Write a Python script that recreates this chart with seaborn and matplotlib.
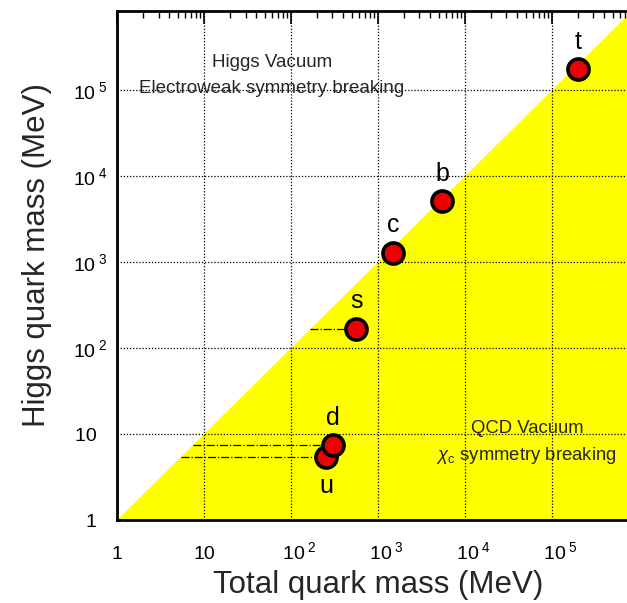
import numpy as np
import pandas as pd
import matplotlib
matplotlib.use('Agg')
import matplotlib.pyplot as plt
import seaborn as sns
from matplotlib.ticker import LogLocator, FixedLocator, NullFormatter

# values (MeV)
quarks = ['u', 'd', 's', 'c', 'b', 't']
total_mass = [252, 305, 560, 1490, 5480, 2.0e5]
higgs_mass = [5.4, 7.4, 166, 1270, 5100, 1.75e5]
label_side = ['below', 'above', 'above', 'above', 'above', 'above']
decades = [1, 10, 1e2, 1e3, 1e4, 1e5]
x_labels = ['1', '10', '   10$^{\\;2}$', '   10$^{\\;3}$', '   10$^{\\;4}$', '   10$^{\\;5}$']
y_labels = ['1  ', '10  ', '10$^{\\;2}$', '10$^{\\;3}$', '10$^{\\;4}$', '10$^{\\;5}$']

df = pd.DataFrame({'quark': quarks, 'total': total_mass, 'higgs': higgs_mass})

sns.set_style('white')
plt.rcParams['font.family'] = ['Liberation Sans', 'DejaVu Sans']
plt.rcParams['mathtext.fontset'] = 'custom'
plt.rcParams['mathtext.rm'] = 'Liberation Sans'
plt.rcParams['mathtext.it'] = 'Liberation Sans:italic'

fig = plt.figure(figsize=(6.27, 6.03), dpi=100)
ax = fig.add_axes([0.1866, 0.1376, 0.8325, 0.844])
ax.set_xscale('log')
ax.set_yscale('log')
ax.set_xlim(1, 1e6)
ax.set_ylim(1, 10 ** 5.92)

# region where total mass > Higgs mass (below the diagonal)
diag = np.array([1, 1e7])
ax.fill_between(diag, diag, 1, color='#ffff00', zorder=0)

ax.set_axisbelow(False)
ax.grid(True, which='major', color='black', linestyle=(0, (1, 1.5)), linewidth=0.9, zorder=1)

# dash-dot lines from the diagonal to each light quark
for q, xt, yh in zip(quarks, total_mass, higgs_mass):
    if q in ('u', 'd', 's'):
        ax.plot([yh, xt], [yh, yh], color='black', linestyle='-.', linewidth=0.9, zorder=2)

sns.scatterplot(data=df, x='total', y='higgs', ax=ax, s=230, color='#ee0000',
                edgecolor='black', linewidth=2.6, zorder=3, legend=False)

for q, xt, yh, side in zip(quarks, total_mass, higgs_mass, label_side):
    dy = 20 if side == 'above' else -21
    ax.annotate(q, (xt, yh), xytext=(0, dy), textcoords='offset points',
                ha='center', va='center', fontsize=18, color='black')

ax.text(60, 2.1e5, 'Higgs Vacuum', ha='center', va='center', fontsize=13.5)
ax.text(60, 1.05e5, 'Electroweak symmetry breaking', ha='center', va='center', fontsize=13.5)
ax.text(5.2e4, 11.7, 'QCD Vacuum', ha='center', va='center', fontsize=13.3)
ax.text(5.0e4, 5.7, '$\\chi_{\\rm c}$ symmetry breaking', ha='center', va='center', fontsize=13.3)

for axis in (ax.xaxis, ax.yaxis):
    axis.set_major_locator(FixedLocator(decades + [1e6]))
    axis.set_minor_locator(LogLocator(base=10, subs=np.arange(2, 10), numticks=20))
    axis.set_minor_formatter(NullFormatter())
ax.set_xticklabels(x_labels + [''])
ax.set_yticklabels(y_labels + [''])
ax.tick_params(which='both', direction='in', top=True, right=True, colors='black',
               labelsize=14)
ax.tick_params(which='major', length=9, width=1.2)
ax.tick_params(which='minor', length=5, width=1.0)
ax.tick_params(axis='x', pad=28)
ax.tick_params(axis='y', pad=7)
for lab in ax.get_xticklabels():
    lab.set_verticalalignment('baseline')

for sp in ax.spines.values():
    sp.set_color('black')
    sp.set_linewidth(2)

ax.set_xlabel('Total quark mass (MeV)', fontsize=22.5, labelpad=5)
ax.set_ylabel('Higgs quark mass (MeV)', fontsize=22.5)
ax.yaxis.set_label_coords(-0.125, 0.52)

fig.savefig('out.png', dpi=100)
